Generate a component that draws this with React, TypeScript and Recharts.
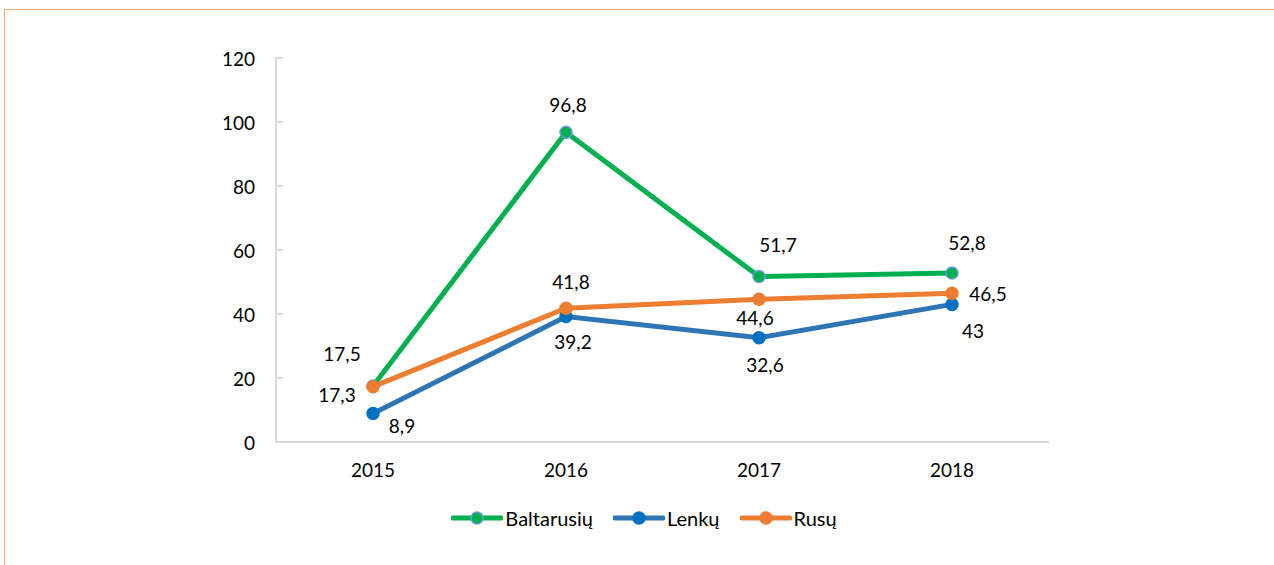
import React from 'react';
import { LineChart, Line, XAxis, YAxis, LabelList } from 'recharts';

const years = ['2015', '2016', '2017', '2018'];
const baltarusiu = [17.5, 96.8, 51.7, 52.8];
const lenku = [8.9, 39.2, 32.6, 43];
const rusu = [17.3, 41.8, 44.6, 46.5];
const yTicks = [0, 20, 40, 60, 80, 100, 120];
const seriesNames = ['Baltarusių', 'Lenkų', 'Rusų'];

const data = years.map((y, i) => ({ year: y, b: baltarusiu[i], l: lenku[i], r: rusu[i] }));

const FONT = 'Lato, "Open Sans", sans-serif';
const FS = 19;

const series = [
  { key: 'b', name: seriesNames[0], line: '#00B050', dot: '#00B050', dotStroke: '#6A9BD8', offsets: [[-31, -33], [2, -28], [19, -32], [15, -31]] },
  { key: 'l', name: seriesNames[1], line: '#2E75B6', dot: '#0070C0', dotStroke: '#0070C0', offsets: [[29, 12], [7, 25], [6, 27], [21, 26]] },
  { key: 'r', name: seriesNames[2], line: '#ED7D31', dot: '#ED7D31', dotStroke: '#ED7D31', offsets: [[-36, 8], [5, -27], [-4, 18], [36, 0]] },
];

const fmt = (v: number) => String(v).replace('.', ',');

const makeLabel = (offsets: number[][]) => (props: any) => {
  const { x, y, value, index } = props;
  const o = offsets[index] || [0, 0];
  return (
    <text x={x + o[0]} y={y + o[1]} textAnchor="middle" dominantBaseline="central"
      fill="#000" fontFamily={FONT} fontSize={FS}>{fmt(value)}</text>
  );
};

const YTick = (props: any) => {
  const { x, y, payload } = props;
  return (
    <g>
      <line x1={x} x2={x + 7} y1={y} y2={y} stroke="#d9d9d9" strokeWidth={2} />
      <text x={x - 21} y={y} textAnchor="end" dominantBaseline="central" fill="#000" fontFamily={FONT} fontSize={FS}>{payload.value}</text>
    </g>
  );
};

const XTick = (props: any) => {
  const { x, y, payload } = props;
  return (
    <text x={x} y={y + 27} textAnchor="middle" dominantBaseline="central" fill="#000" fontFamily={FONT} fontSize={FS}>{payload.value}</text>
  );
};

const LegendIcon = ({ s }: any) => (
  <svg width={52} height={16} style={{ display: 'block' }}>
    <line x1={2} x2={50} y1={8} y2={8} stroke={s.line} strokeWidth={5} strokeLinecap="round" />
    <circle cx={26} cy={8} r={6} fill={s.dot} stroke={s.dotStroke} strokeWidth={1.5} />
  </svg>
);

export default function App() {
  return (
    <div style={{ position: 'fixed', left: 0, top: 0, width: 1274, height: 565, overflow: 'hidden', background: '#fff' }}>
      <div style={{ position: 'absolute', left: 4, top: 9, width: 1300, height: 600, border: '1.5px solid #F2AC70', boxSizing: 'border-box' }} />
      <div style={{ position: 'absolute', left: 0, top: 0 }}>
        <LineChart width={1274} height={565} data={data} margin={{ top: 58, right: 225, bottom: 93, left: 0 }}>
          <XAxis dataKey="year" height={30} padding={{ left: 97, right: 97 }} tickLine={false} tickSize={0} tickMargin={0}
            axisLine={{ stroke: '#d9d9d9', strokeWidth: 2 }} tick={<XTick />} interval={0} />
          <YAxis width={276} domain={[0, 120]} ticks={yTicks} tickLine={false} tickSize={0} tickMargin={0}
            axisLine={{ stroke: '#d9d9d9', strokeWidth: 2 }} tick={<YTick />} interval={0} />
          {series.map((s) => (
            <Line key={s.key} type="linear" dataKey={s.key} name={s.name} stroke={s.line} strokeWidth={5}
              dot={{ r: 6, fill: s.dot, stroke: s.dotStroke, strokeWidth: 1.5 }} activeDot={false}
              isAnimationActive={false}>
              <LabelList dataKey={s.key} content={makeLabel(s.offsets)} />
            </Line>
          ))}
        </LineChart>
      </div>
      <div style={{ position: 'absolute', left: 0, top: 506, width: 1274, display: 'flex', justifyContent: 'center', alignItems: 'center', fontFamily: FONT, fontSize: FS + 1, color: '#000' }}>
        {series.map((s, i) => (
          <div key={s.key} style={{ display: 'flex', alignItems: 'center', marginLeft: i === 0 ? 14 : 20 }}>
            <LegendIcon s={s} />
            <span style={{ marginLeft: 2 }}>{s.name}</span>
          </div>
        ))}
      </div>
    </div>
  );
}
